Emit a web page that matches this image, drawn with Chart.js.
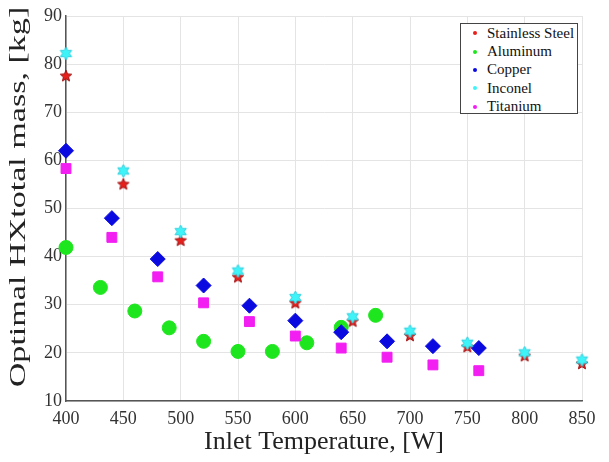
<!DOCTYPE html>
<html lang="en">
<head>
    <title>Optimal HX total mass</title>
    <script src="https://cdn.jsdelivr.net/npm/chart.js"></script>
    <style>
        body { margin: 0; background: #fff; }
        .wrap { position: relative; width: 609px; height: 462px; }
        #massChart { width: 609px !important; height: 462px !important; }
        .legend {
            position: absolute;
            left: 460px; top: 23px;
            width: 118px; height: 91px;
            border: 1px solid #444;
            background: #fff;
            font-family: 'Liberation Serif', 'Times New Roman', serif;
            font-size: 15px;
            color: #111;
            padding-top: 0px;
            box-sizing: border-box;
        }
        .legend-item { display: flex; align-items: center; height: 18.4px; }
        .legend-dot { width: 4px; height: 4px; border-radius: 50%; margin: 0 10px 0 12px; }
    </style>
</head>
<body>
    <div class="wrap">
        <canvas id="massChart" width="609" height="462"></canvas>
        <div class="legend" id="legend-container"></div>
    </div>

    <script>
        // datos
        const xSteelInconel = [400, 450, 500, 550, 600, 650, 700, 750, 800, 850];
        const xAluminum = [400, 430, 460, 490, 520, 550, 580, 610, 640, 670];
        const xCopperTitanium = [400, 440, 480, 520, 560, 600, 640, 680, 720, 760];

        const steel = [77.5, 55.0, 43.3, 35.7, 30.3, 26.5, 23.5, 21.2, 19.3, 17.7];
        const aluminum = [41.9, 33.6, 28.7, 25.2, 22.4, 20.3, 20.3, 22.1, 25.3, 27.8];
        const copper = [62.0, 48.0, 39.5, 34.0, 29.8, 26.7, 24.3, 22.4, 21.4, 21.0];
        const inconel = [82.2, 57.8, 45.2, 37.0, 31.5, 27.5, 24.5, 22.0, 20.0, 18.5];
        const titanium = [58.3, 44.0, 35.8, 30.4, 26.5, 23.5, 21.0, 19.1, 17.5, 16.3];

        const xTicks = [400, 450, 500, 550, 600, 650, 700, 750, 800, 850];
        const yTicks = [10, 20, 30, 40, 50, 60, 70, 80, 90];

        function pts(xs, ys) {
            return xs.map((x, i) => ({ x: x, y: ys[i] }));
        }

        // estrella rellena como imagen de punto
        function starImage(n, size, fill, edge) {
            const c = document.createElement('canvas');
            c.width = size; c.height = size;
            const g = c.getContext('2d');
            const r = size / 2 - 1, ri = r * (n === 5 ? 0.45 : 0.55);
            g.beginPath();
            for (let i = 0; i < n * 2; i++) {
                const a = -Math.PI / 2 + i * Math.PI / n;
                const rr = i % 2 === 0 ? r : ri;
                const px = size / 2 + rr * Math.cos(a), py = size / 2 + rr * Math.sin(a);
                if (i === 0) g.moveTo(px, py); else g.lineTo(px, py);
            }
            g.closePath();
            g.fillStyle = fill; g.fill();
            g.strokeStyle = edge; g.lineWidth = 1; g.stroke();
            return c;
        }

        const redStar = starImage(5, 14, '#e8201c', '#a01010');
        const cyanStar = starImage(6, 15, '#3ff4f8', '#30d0e0');

        // titulo del eje Y, alargado como en el original
        const yTitlePlugin = {
            id: 'yTitle',
            afterDraw(chart) {
                const c = chart.ctx;
                c.save();
                c.translate(19, 197);
                c.rotate(-Math.PI / 2);
                c.scale(1.42, 1);
                c.font = '24px "Liberation Serif"';
                c.fillStyle = '#222';
                c.textAlign = 'center';
                c.textBaseline = 'middle';
                c.fillText('Optimal HXtotal mass, [kg]', 0, 0);
                c.restore();
            }
        };

        const ctx = document.getElementById('massChart').getContext('2d');
        const chart = new Chart(ctx, {
            type: 'scatter',
            data: {
                datasets: [
                    { label: 'Stainless Steel', data: pts(xSteelInconel, steel), pointStyle: redStar, color: '#e8201c', order: 5 },
                    { label: 'Aluminum', data: pts(xAluminum, aluminum), pointStyle: 'circle', pointRadius: 7,
                      backgroundColor: '#1ee61e', borderColor: '#1ee61e', color: '#1ee61e', order: 4 },
                    { label: 'Copper', data: pts(xCopperTitanium, copper), pointStyle: 'rectRot', pointRadius: 7.5,
                      backgroundColor: '#0a0ae0', borderColor: '#0a0ae0', color: '#0a0ae0', order: 3 },
                    { label: 'Inconel', data: pts(xSteelInconel, inconel), pointStyle: cyanStar, color: '#3ff4f8', order: 2 },
                    { label: 'Titanium', data: pts(xCopperTitanium, titanium), pointStyle: 'rect', pointRadius: 7,
                      backgroundColor: '#f21ef2', borderColor: '#f21ef2', color: '#f21ef2', order: 1 }
                ]
            },
            options: {
                responsive: false,
                animation: false,
                clip: false,
                layout: { padding: { top: 16, right: 27, left: 0, bottom: 0 } },
                plugins: { legend: { display: false }, tooltip: { enabled: false } },
                scales: {
                    x: {
                        type: 'linear', min: 400, max: 850,
                        afterBuildTicks: (s) => { s.ticks = xTicks.map(v => ({ value: v })); },
                        afterFit: (s) => { s.height = 61; },
                        grid: { color: '#e4e4e4', drawTicks: false },
                        border: { color: '#555', width: 1.5 },
                        ticks: { color: '#333', padding: 7, font: { family: 'Liberation Serif', size: 18 } },
                        title: { display: true, text: 'Inlet Temperature, [W]', color: '#222', padding: { top: 0 },
                                 font: { family: 'Liberation Serif', size: 26 } }
                    },
                    y: {
                        type: 'linear', min: 10, max: 90,
                        afterBuildTicks: (s) => { s.ticks = yTicks.map(v => ({ value: v })); },
                        afterFit: (s) => { s.width = 66; },
                        grid: { color: '#e4e4e4', drawTicks: false },
                        border: { color: '#555', width: 1.5 },
                        ticks: { color: '#333', padding: 4, font: { family: 'Liberation Serif', size: 18 } },
                        title: { display: false }
                    }
                }
            },
            plugins: [yTitlePlugin]
        });

        // leyenda dentro del area
        const legendContainer = document.getElementById('legend-container');
        chart.data.datasets.forEach((dataset) => {
            const item = document.createElement('div');
            item.className = 'legend-item';
            item.innerHTML = `<div class="legend-dot" style="background:${dataset.color};"></div><span>${dataset.label}</span>`;
            legendContainer.appendChild(item);
        });
    </script>
</body>
</html>
